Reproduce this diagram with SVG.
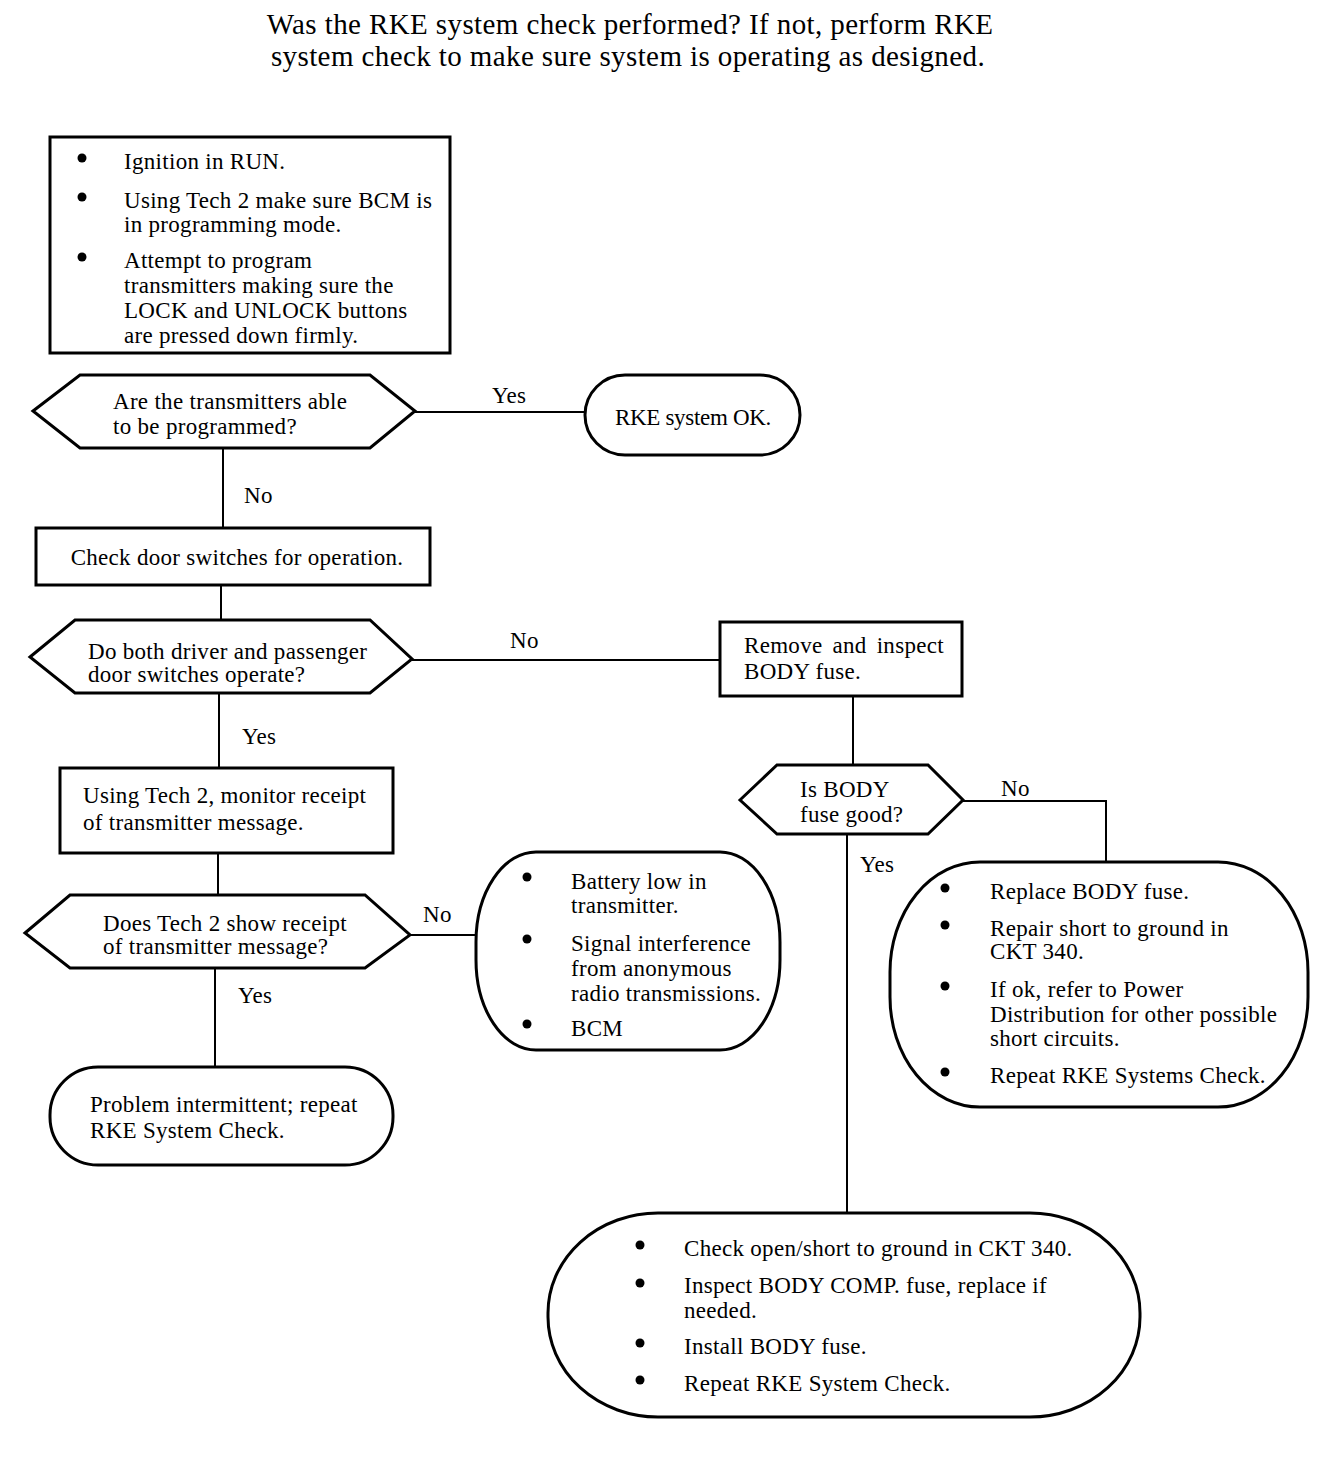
<svg xmlns="http://www.w3.org/2000/svg" width="1328" height="1466" viewBox="0 0 1328 1466">
<style>
text{font-family:"Liberation Serif","Times New Roman",serif;font-size:23px;letter-spacing:0.3px;fill:#000}
.t{font-size:29px;letter-spacing:0.4px}
.s{fill:#fff;stroke:#000;stroke-width:3}
.c{fill:none;stroke:#000;stroke-width:2}
.mid{text-anchor:middle}
</style>
<rect width="1328" height="1466" fill="#fff"/>
<g id="title">
<text class="t mid" x="630" y="34">Was the RKE system check performed? If not, perform RKE</text>
<text class="t mid" x="628" y="66">system check to make sure system is operating as designed.</text>
</g>
<g id="connectors">
<path class="c" d="M415,412 H585"/>
<path class="c" d="M223,448 V528"/>
<path class="c" d="M221,585 V620"/>
<path class="c" d="M412,660 H720"/>
<path class="c" d="M853,696 V765"/>
<path class="c" d="M963,801 H1106 V862"/>
<path class="c" d="M847,834 V1213"/>
<path class="c" d="M219,693 V768"/>
<path class="c" d="M218,853 V895"/>
<path class="c" d="M410,935 H476"/>
<path class="c" d="M215,968 V1067"/>
<text x="492" y="403">Yes</text>
<text x="244" y="503">No</text>
<text x="510" y="648">No</text>
<text x="242" y="744">Yes</text>
<text x="1001" y="796">No</text>
<text x="860" y="872">Yes</text>
<text x="423" y="922">No</text>
<text x="238" y="1003">Yes</text>
</g>
<g id="n1">
<rect class="s" x="50" y="137" width="400" height="216"/>
<circle cx="82" cy="158" r="4.5"/><circle cx="82" cy="197" r="4.5"/><circle cx="82" cy="257" r="4.5"/>
<text x="124" y="169">Ignition in RUN.</text>
<text x="124" y="208">Using Tech 2 make sure BCM is</text>
<text x="124" y="232">in programming mode.</text>
<text x="124" y="268">Attempt to program</text>
<text x="124" y="293">transmitters making sure the</text>
<text x="124" y="318">LOCK and UNLOCK buttons</text>
<text x="124" y="343">are pressed down firmly.</text>
</g>
<g id="d1">
<polygon class="s" points="33,411 80,375 370,375 415,411 370,448 80,448"/>
<text x="113" y="409">Are the transmitters able</text>
<text x="113" y="434">to be programmed?</text>
</g>
<g id="ok">
<rect class="s" x="585" y="375" width="215" height="80" rx="40" ry="40"/>
<text class="mid" x="693" y="425" style="letter-spacing:-0.3px">RKE system OK.</text>
</g>
<g id="n2">
<rect class="s" x="36" y="528" width="394" height="57"/>
<text class="mid" x="237" y="565">Check door switches for operation.</text>
</g>
<g id="d2">
<polygon class="s" points="30,657 75,620 370,620 412,659 370,693 75,693"/>
<text x="88" y="659">Do both driver and passenger</text>
<text x="88" y="682">door switches operate?</text>
</g>
<g id="n3">
<rect class="s" x="720" y="622" width="242" height="74"/>
<text x="744" y="653" style="word-spacing:4px">Remove and inspect</text>
<text x="744" y="679">BODY fuse.</text>
</g>
<g id="d3">
<polygon class="s" points="740,800 777,765 928,765 963,800 928,834 777,834"/>
<text x="800" y="797">Is BODY</text>
<text x="800" y="822">fuse good?</text>
</g>
<g id="n4">
<rect class="s" x="890" y="862" width="418" height="245" rx="90" ry="110"/>
<circle cx="945" cy="888" r="4.5"/><circle cx="945" cy="925" r="4.5"/><circle cx="945" cy="986" r="4.5"/><circle cx="945" cy="1072" r="4.5"/>
<text x="990" y="899">Replace BODY  fuse.</text>
<text x="990" y="936">Repair short to ground in</text>
<text x="990" y="959">CKT 340.</text>
<text x="990" y="997">If ok, refer to Power</text>
<text x="990" y="1022">Distribution for other possible</text>
<text x="990" y="1046">short circuits.</text>
<text x="990" y="1083">Repeat RKE Systems Check.</text>
</g>
<g id="n5">
<rect class="s" x="548" y="1213" width="592" height="204" rx="110" ry="100"/>
<circle cx="640" cy="1245" r="4.5"/><circle cx="640" cy="1283" r="4.5"/><circle cx="640" cy="1343" r="4.5"/><circle cx="640" cy="1380" r="4.5"/>
<text x="684" y="1256">Check open/short to ground in CKT 340.</text>
<text x="684" y="1293">Inspect BODY COMP.  fuse, replace if</text>
<text x="684" y="1318">needed.</text>
<text x="684" y="1354">Install BODY fuse.</text>
<text x="684" y="1391">Repeat RKE System Check.</text>
</g>
<g id="n6">
<rect class="s" x="60" y="768" width="333" height="85"/>
<text x="83" y="803">Using Tech 2, monitor receipt</text>
<text x="83" y="830">of transmitter message.</text>
</g>
<g id="d4">
<polygon class="s" points="25,933 70,895 365,895 410,935 365,968 70,968"/>
<text x="103" y="931">Does Tech 2 show receipt</text>
<text x="103" y="954">of transmitter message?</text>
</g>
<g id="n7">
<rect class="s" x="476" y="852" width="304" height="198" rx="60" ry="90"/>
<circle cx="527" cy="877" r="4.5"/><circle cx="527" cy="939" r="4.5"/><circle cx="527" cy="1024" r="4.5"/>
<text x="571" y="889">Battery low in</text>
<text x="571" y="913">transmitter.</text>
<text x="571" y="951">Signal interference</text>
<text x="571" y="976">from anonymous</text>
<text x="571" y="1001">radio transmissions.</text>
<text x="571" y="1036">BCM</text>
</g>
<g id="n8">
<rect class="s" x="50" y="1067" width="343" height="98" rx="48" ry="48"/>
<text x="90" y="1112">Problem intermittent; repeat</text>
<text x="90" y="1138">RKE System Check.</text>
</g>
</svg>
